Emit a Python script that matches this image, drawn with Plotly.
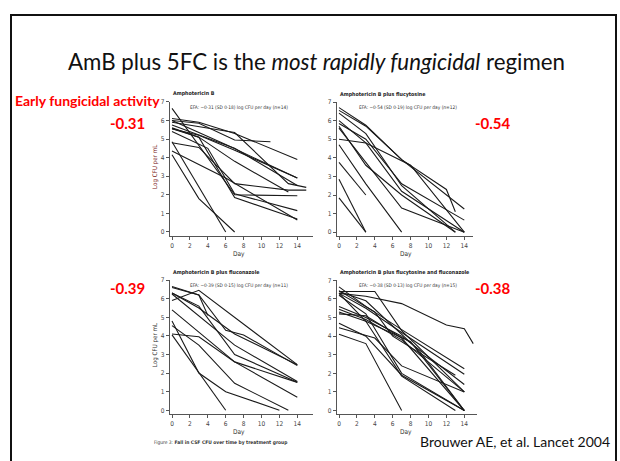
import plotly.graph_objects as go

# ---------------- data ----------------
day_ticks = [0, 2, 4, 6, 8, 10, 12, 14]
log_ticks = [0, 1, 2, 3, 4, 5, 6, 7]

panel_titles = [
    "Amphotericin B",
    "Amphotericin B plus flucytosine",
    "Amphotericin B plus fluconazole",
    "Amphotericin B plus flucytosine and fluconazole",
]
efa_texts = [
    "EFA: \u22120\u00b731 (SD 0\u00b718) log CFU per day (n=14)",
    "EFA: \u22120\u00b754 (SD 0\u00b719) log CFU per day (n=12)",
    "EFA: \u22120\u00b739 (SD 0\u00b715) log CFU per day (n=11)",
    "EFA: \u22120\u00b738 (SD 0\u00b713) log CFU per day (n=15)",
]
efa_values = ["-0.31", "-0.54", "-0.39", "-0.38"]

# Amphotericin B (n=14)
amb_days = [
    [0, 3, 7, 14], [0, 3, 7, 11], [0, 7, 13, 15], [0, 6, 14], [0, 3, 7, 14],
    [0, 3, 7, 13], [0, 7, 14], [0, 3, 7, 14], [0, 4, 7, 14], [0, 6],
    [0, 3, 7], [0, 3, 7, 13, 15], [0, 6, 14], [0, 3, 7, 14],
]
amb_cfu = [
    [6.1, 5.9, 5.3, 3.9], [6.0, 5.85, 4.95, 4.85], [5.9, 5.35, 2.6, 2.4], [6.0, 4.7, 2.9],
    [5.75, 5.2, 4.5, 2.5], [5.6, 5.1, 3.8, 2.15], [6.65, 2.0, 1.95], [5.55, 5.1, 1.85, 0.7],
    [5.4, 4.5, 2.05, 1.15], [4.85, 0.0], [4.15, 1.8, 0.0], [4.8, 4.55, 2.6, 2.25, 2.25],
    [4.35, 2.9, 0.65], [5.55, 5.2, 4.4, 2.9],
]

# Amphotericin B plus flucytosine (n=12)
ambf_days = [
    [0, 3, 7, 12, 13], [0, 3, 7, 14], [0, 3, 7, 13], [0, 3, 7, 14], [0, 3, 7, 14],
    [0, 3, 7, 13], [0, 3, 8, 14], [0, 3, 7], [0, 3], [0, 3], [0, 3], [0, 7, 14],
]
ambf_cfu = [
    [6.7, 5.75, 3.9, 2.3, 1.1], [6.55, 5.7, 3.9, 1.25], [6.4, 5.3, 2.5, 0.0],
    [6.0, 4.8, 2.2, 0.0], [5.85, 5.0, 2.6, 0.65], [5.7, 3.6, 2.0, 0.0],
    [5.0, 4.8, 3.6, 0.0], [4.7, 2.6, 0.0], [3.75, 2.0], [2.85, 0.0], [1.85, 0.0],
    [5.6, 1.3, 0.0],
]

# Amphotericin B plus fluconazole (n=11)
ambfl_days = [
    [0, 3, 4], [0, 3, 14], [0, 3, 6, 8, 14], [0, 3, 7, 14], [0, 7, 14],
    [0, 7, 14], [0, 3, 7, 14], [0, 3, 6, 12], [0, 3, 7, 13], [0, 6], [0, 3, 7, 14],
]
ambfl_cfu = [
    [6.6, 6.2, 5.1], [5.9, 6.45, 2.45], [6.65, 6.2, 4.3, 4.05, 2.4], [6.3, 5.5, 4.1, 2.45],
    [6.25, 3.5, 1.55], [5.4, 2.6, 0.7], [4.1, 3.95, 2.6, 1.5], [4.8, 2.0, 1.0, 0.0],
    [4.55, 3.5, 1.45, 0.0], [4.05, 0.0], [6.3, 5.6, 3.0, 1.5],
]

# Amphotericin B plus flucytosine and fluconazole (n=15)
ambffl_days = [
    [0, 4, 7, 14], [0, 3, 7, 12, 14, 15], [0, 3, 7, 14], [0, 3, 7, 14], [0, 3, 7, 14],
    [0, 4, 6, 13], [0, 3, 7, 14], [0, 3, 7, 14], [0, 3, 7, 14], [0, 3, 7, 14],
    [0, 4, 7, 14], [0, 3, 7], [0, 3, 7, 13], [0, 3, 8, 14], [0, 3, 9, 14],
]
ambffl_cfu = [
    [6.4, 6.4, 4.3, 1.0], [6.3, 6.15, 5.75, 4.6, 4.4, 3.6], [6.65, 5.6, 4.35, 2.25],
    [6.3, 5.5, 4.2, 1.95], [6.2, 5.2, 2.0, 0.0], [6.45, 5.3, 4.0, 1.9],
    [5.6, 5.0, 4.0, 1.4], [5.45, 4.9, 3.8, 1.0], [5.2, 5.1, 3.9, 0.0],
    [4.7, 4.0, 1.9, 0.0], [4.45, 3.9, 2.4, 1.0], [4.1, 3.6, 0.0],
    [6.3, 4.8, 1.85, 0.0], [5.3, 4.8, 3.7, 0.0], [6.4, 5.9, 3.2, 0.0],
]

panels_days = [amb_days, ambf_days, ambfl_days, ambffl_days]
panels_cfu = [amb_cfu, ambf_cfu, ambfl_cfu, ambffl_cfu]

# ---------------- layout geometry (pixels) ----------------
W, H = 620, 461
PX_DAY = 8.95
PX_LOG = 18.8


def fx(p):
    return p / W


def fy(p):
    return 1 - p / H


# (x pixel of day 0, y pixel of log 0, axis end in days)
geo = [(172, 230.5, 15.8), (339, 230.7, 15.0), (172, 410.7, 15.8), (339, 411.0, 15.4)]

CHART_FONT = "Liberation Sans Narrow, DejaVu Sans Condensed, Liberation Sans, Arial"
SLIDE_FONT = "Lato, Open Sans, Liberation Sans, sans-serif"

fig = go.Figure()
layout = dict(
    width=W, height=H, margin=dict(l=0, r=0, t=0, b=0),
    paper_bgcolor="white", plot_bgcolor="white", showlegend=False,
)
annotations = []

for i in range(4):
    x0, y0, xend = geo[i]
    k = "" if i == 0 else str(i + 1)
    xa, ya = "xaxis" + k, "yaxis" + k
    xr, yr = "x" + k, "y" + k
    layout[xa] = dict(
        domain=[fx(x0 - 0.25 * PX_DAY), fx(x0 + xend * PX_DAY)],
        range=[-0.25, xend], anchor=yr, showgrid=False, zeroline=False,
        showline=True, linecolor="#555", linewidth=1,
        tickmode="array", tickvals=day_ticks, ticks="outside", ticklen=3,
        tickcolor="#555", tickfont=dict(size=6.5, color="#444", family=CHART_FONT),
    )
    layout[ya] = dict(
        domain=[fy(y0 + 0.2 * PX_LOG), fy(y0 - 7 * PX_LOG)],
        range=[-0.2, 7], anchor=xr, showgrid=False, zeroline=False,
        showline=True, linecolor="#555", linewidth=1,
        tickmode="array", tickvals=log_ticks, ticks="outside", ticklen=3,
        tickcolor="#555", tickfont=dict(size=6.5, color="#444", family=CHART_FONT),
    )
    for d, v in zip(panels_days[i], panels_cfu[i]):
        fig.add_trace(go.Scatter(
            x=d, y=v, mode="lines", xaxis=xr, yaxis=yr,
            line=dict(color="#1a1a1a", width=1.1), hoverinfo="skip",
        ))
    # panel title
    annotations.append(dict(
        x=fx(x0 - 1), y=fy(y0 - 7 * PX_LOG - 8), xref="paper", yref="paper",
        xanchor="left", yanchor="middle", showarrow=False,
        text="<b>" + panel_titles[i] + "</b>",
        font=dict(size=5.3, color="#222", family=CHART_FONT),
    ))
    # EFA text
    annotations.append(dict(
        x=fx(x0 + (16 if i % 2 == 0 else 18)), y=fy(y0 - 7 * PX_LOG + 5.5),
        xref="paper", yref="paper", xanchor="left", yanchor="middle",
        showarrow=False, text=efa_texts[i],
        font=dict(size=4.8, color="#333", family=CHART_FONT),
    ))
    # Day label
    annotations.append(dict(
        x=fx(x0 + 7.5 * PX_DAY), y=fy(y0 + 22), xref="paper", yref="paper",
        xanchor="center", yanchor="middle", showarrow=False, text="Day",
        font=dict(size=6.5, color="#333", family=CHART_FONT),
    ))
    # y title on left panels
    if i % 2 == 0:
        annotations.append(dict(
            x=fx(x0 - 17), y=fy(y0 - 3.5 * PX_LOG), xref="paper", yref="paper",
            xanchor="center", yanchor="middle", showarrow=False, textangle=-90,
            text="Log CFU per mL",
            font=dict(size=6.2, color="#7a2020" if i == 0 else "#333", family=CHART_FONT),
        ))

# red EFA values
val_pos = [(127, 120), (493, 120), (127, 287), (493, 287)]
for (vx, vy), t in zip(val_pos, efa_values):
    annotations.append(dict(
        x=fx(vx), y=fy(vy), xref="paper", yref="paper", xanchor="center",
        yanchor="middle", showarrow=False, text="<b>" + t + "</b>",
        font=dict(size=15, color="#ff0000", family=SLIDE_FONT),
    ))

annotations += [
    dict(x=fx(316), y=fy(58), xref="paper", yref="paper", xanchor="center",
         yanchor="middle", showarrow=False,
         text="AmB plus 5FC is the <i>most rapidly fungicidal</i> regimen",
         font=dict(size=22.3, color="#111", family=SLIDE_FONT)),
    dict(x=fx(87), y=fy(98), xref="paper", yref="paper", xanchor="center",
         yanchor="middle", showarrow=False, text="<b>Early fungicidal activity</b>",
         font=dict(size=14, color="#ff0000", family=SLIDE_FONT)),
    dict(x=fx(515), y=fy(442), xref="paper", yref="paper", xanchor="center",
         yanchor="middle", showarrow=False, text="Brouwer AE, et al. Lancet 2004",
         font=dict(size=14, color="#111", family=SLIDE_FONT)),
    dict(x=fx(152), y=fy(443), xref="paper", yref="paper", xanchor="left",
         yanchor="middle", showarrow=False,
         text="Figure 3: <b>Fall in CSF CFU over time by treatment group</b>",
         font=dict(size=4.9, color="#333", family=CHART_FONT)),
]
layout["annotations"] = annotations
layout["shapes"] = [dict(
    type="rect", xref="paper", yref="paper", x0=fx(11), x1=fx(616),
    y0=fy(480), y1=fy(11), line=dict(color="#111", width=2),
)]

fig.update_layout(**layout)
fig.write_html("out.html")
